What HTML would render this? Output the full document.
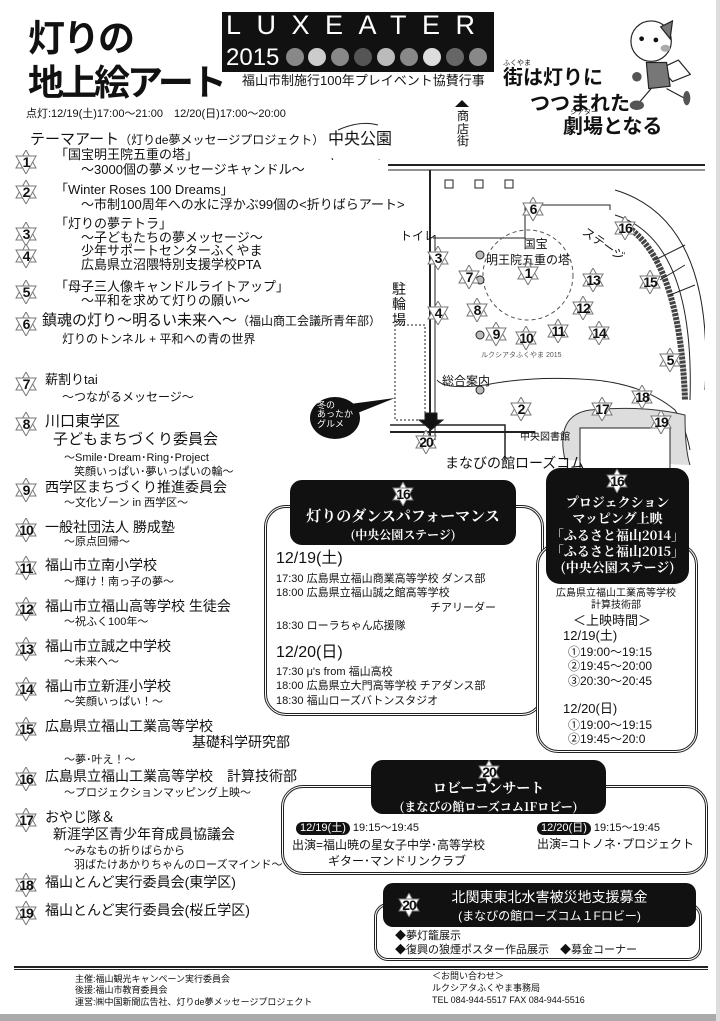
<!DOCTYPE html>
<html><head><meta charset="utf-8">
<style>
*{margin:0;padding:0;box-sizing:border-box}
body{width:720px;height:1021px;background:#fff;position:relative;overflow:hidden;font-family:"Liberation Sans","Noto Sans CJK JP",sans-serif;color:#111}
.a{position:absolute;white-space:nowrap;line-height:1.15}
.st{position:absolute;width:24px;height:24px}
.st svg{position:absolute;left:0;top:0}
.st b{position:absolute;left:0;top:4px;width:24px;text-align:center;font:bold 14px "Liberation Sans",sans-serif;letter-spacing:-1px}
.t13{font-size:13px}.t12{font-size:12px}.t11{font-size:11px}.t10{font-size:10px}
.blk{position:absolute;background:#111;color:#fff;border-radius:12px;text-align:center;font-family:"Noto Serif CJK SC","Liberation Serif",serif;font-weight:bold}
.box{position:absolute;border:3px double #222;border-radius:22px;background:#fff}
.pill{display:inline-block;background:#111;color:#fff;border-radius:9px;padding:0 4px;font-size:11px}
</style></head><body>
<svg width="0" height="0" style="position:absolute"><defs><g id="s"><polygon points="12,0 22,18 2,18" fill="#fff" stroke="#777" stroke-width="1"/><polygon points="12,24 22,6 2,6" fill="#fff" stroke="#777" stroke-width="1"/></g></defs></svg>

<!-- title -->
<div class="a" style="left:28px;top:18px;font-size:37px;font-weight:bold;letter-spacing:-2px">灯りの</div>
<div class="a" style="left:28px;top:62px;font-size:36px;font-weight:bold;letter-spacing:-3px">地上絵アート</div>
<div class="a" style="left:222px;top:12px;width:272px;height:60px;background:#111;overflow:hidden">
<div class="a" style="left:4px;top:-2px;color:#fff;font-size:27px;letter-spacing:15.5px">LUXEATER</div>
<div class="a" style="left:4px;top:32px;color:#fff;font-size:24px">2015</div>
</div>
<svg class="a" style="left:285px;top:46px" width="205" height="22">
<g fill="#888"><circle cx="10" cy="11" r="9"/><circle cx="32" cy="11" r="9" fill="#ccc"/><circle cx="55" cy="11" r="9"/><circle cx="78" cy="11" r="9" fill="#555"/><circle cx="101" cy="11" r="9" fill="#bbb"/><circle cx="124" cy="11" r="9"/><circle cx="147" cy="11" r="9" fill="#ddd"/><circle cx="170" cy="11" r="9" fill="#666"/><circle cx="193" cy="11" r="9"/></g></svg>
<div class="a t13" style="left:242px;top:74px">福山市制施行100年プレイベント協賛行事</div>
<div class="a" style="left:503px;top:60px;font-size:7px">ふくやま</div>
<div class="a" style="left:503px;top:67px;font-size:20px;font-weight:bold">街は灯りに</div>
<div class="a" style="left:530px;top:93px;font-size:20px;font-weight:bold">つつまれた</div>
<div class="a" style="left:570px;top:109px;font-size:7px">シアター</div>
<div class="a" style="left:563px;top:116px;font-size:20px;font-weight:bold">劇場となる</div>
<svg class="a" style="left:625px;top:15px" width="95" height="95" viewBox="0 0 80 80">
<circle cx="22" cy="22" r="17" fill="#fff" stroke="#222"/><polygon points="30,10 40,5 38,20" fill="#777" stroke="#222"/>
<circle cx="14" cy="20" r="2" fill="#111"/><circle cx="26" cy="21" r="2" fill="#111"/><ellipse cx="34" cy="28" rx="4" ry="3" fill="#aaa"/>
<path d="M30 45 L45 38 L55 50 L40 56Z" fill="#fff" stroke="#222"/><path d="M18 40 L35 40 L38 60 L20 62Z" fill="#777" stroke="#222"/>
<path d="M22 62 L10 76 M35 62 L50 70" stroke="#222" fill="none"/><ellipse cx="10" cy="76" rx="6" ry="4" fill="#555"/><ellipse cx="52" cy="70" rx="3" ry="6" fill="#555"/><circle cx="10" cy="52" r="4" fill="#555"/></svg>

<div class="a t11" style="left:26px;top:108px">点灯:12/19(土)17:00～21:00　12/20(日)17:00～20:00</div>

<!-- left list -->
<div class="a" style="left:30px;top:131px;font-size:15px">テーマアート<span class="t12">（灯りde夢メッセージプロジェクト）</span></div>
<div class="st" style="left:14px;top:150px"><svg width="24" height="24"><use href="#s"/></svg><b>1</b></div>
<div class="a t13" style="left:55px;top:148px">「国宝明王院五重の塔」<br>　　～3000個の夢メッセージキャンドル～</div>
<div class="st" style="left:14px;top:180px"><svg width="24" height="24"><use href="#s"/></svg><b>2</b></div>
<div class="a t13" style="left:55px;top:183px">「Winter Roses 100 Dreams」<br>　　～市制100周年への水に浮かぶ99個の&lt;折りばらアート&gt;</div>
<div class="st" style="left:14px;top:222px"><svg width="24" height="24"><use href="#s"/></svg><b>3</b></div>
<div class="st" style="left:14px;top:244px"><svg width="24" height="24"><use href="#s"/></svg><b>4</b></div>
<div class="a t13" style="left:55px;top:217px;line-height:1.05">「灯りの夢テトラ」<br>　　～子どもたちの夢メッセージ～<br>　　少年サポートセンターふくやま<br>　　広島県立沼隈特別支援学校PTA</div>
<div class="st" style="left:14px;top:280px"><svg width="24" height="24"><use href="#s"/></svg><b>5</b></div>
<div class="a t13" style="left:55px;top:280px;line-height:1.05">「母子三人像キャンドルライトアップ」<br>　　～平和を求めて灯りの願い～</div>
<div class="st" style="left:14px;top:312px"><svg width="24" height="24"><use href="#s"/></svg><b>6</b></div>
<div class="a" style="left:42px;top:312px;font-size:15px">鎮魂の灯り～明るい未来へ～<span class="t12">（福山商工会議所青年部）</span></div>
<div class="a t12" style="left:62px;top:333px">灯りのトンネル + 平和への青の世界</div>

<div class="st" style="left:14px;top:372px"><svg width="24" height="24"><use href="#s"/></svg><b>7</b></div>
<div class="a t13" style="left:45px;top:373px">薪割りtai</div><div class="a t12" style="left:62px;top:391px">～つながるメッセージ～</div>
<div class="st" style="left:14px;top:412px"><svg width="24" height="24"><use href="#s"/></svg><b>8</b></div>
<div class="a" style="left:45px;top:413px;font-size:15px">川口東学区</div>
<div class="a" style="left:53px;top:431px;font-size:15px">子どもまちづくり委員会</div>
<div class="a t11" style="left:64px;top:452px">～Smile･Dream･Ring･Project</div>
<div class="a t11" style="left:74px;top:466px">笑顔いっぱい･夢いっぱいの輪～</div>
<div class="st" style="left:14px;top:478px"><svg width="24" height="24"><use href="#s"/></svg><b>9</b></div>
<div class="a" style="left:45px;top:479px;font-size:14px">西学区まちづくり推進委員会</div><div class="a t11" style="left:64px;top:497px">～文化ゾーン in 西学区～</div>
<div class="st" style="left:14px;top:518px"><svg width="24" height="24"><use href="#s"/></svg><b>10</b></div>
<div class="a" style="left:45px;top:519px;font-size:14px">一般社団法人 勝成塾</div><div class="a t11" style="left:64px;top:536px">～原点回帰～</div>
<div class="st" style="left:14px;top:556px"><svg width="24" height="24"><use href="#s"/></svg><b>11</b></div>
<div class="a" style="left:45px;top:557px;font-size:14px">福山市立南小学校</div><div class="a t11" style="left:64px;top:576px">～輝け！南っ子の夢～</div>
<div class="st" style="left:14px;top:597px"><svg width="24" height="24"><use href="#s"/></svg><b>12</b></div>
<div class="a" style="left:45px;top:598px;font-size:14px">福山市立福山高等学校 生徒会</div><div class="a t11" style="left:64px;top:616px">～祝ふく100年～</div>
<div class="st" style="left:14px;top:637px"><svg width="24" height="24"><use href="#s"/></svg><b>13</b></div>
<div class="a" style="left:45px;top:638px;font-size:14px">福山市立誠之中学校</div><div class="a t11" style="left:64px;top:656px">～未来へ～</div>
<div class="st" style="left:14px;top:677px"><svg width="24" height="24"><use href="#s"/></svg><b>14</b></div>
<div class="a" style="left:45px;top:678px;font-size:14px">福山市立新涯小学校</div><div class="a t11" style="left:64px;top:696px">～笑顔いっぱい！～</div>
<div class="st" style="left:14px;top:717px"><svg width="24" height="24"><use href="#s"/></svg><b>15</b></div>
<div class="a" style="left:45px;top:718px;font-size:14px">広島県立福山工業高等学校</div>
<div class="a" style="left:192px;top:734px;font-size:14px">基礎科学研究部</div><div class="a t11" style="left:64px;top:754px">～夢･叶え！～</div>
<div class="st" style="left:14px;top:767px"><svg width="24" height="24"><use href="#s"/></svg><b>16</b></div>
<div class="a" style="left:45px;top:768px;font-size:14px">広島県立福山工業高等学校　計算技術部</div><div class="a t11" style="left:64px;top:787px">～プロジェクションマッピング上映～</div>
<div class="st" style="left:14px;top:808px"><svg width="24" height="24"><use href="#s"/></svg><b>17</b></div>
<div class="a" style="left:45px;top:809px;font-size:14px">おやじ隊＆</div>
<div class="a" style="left:53px;top:826px;font-size:14px">新涯学区青少年育成員協議会</div>
<div class="a t11" style="left:64px;top:845px">～みなもの折りばらから</div><div class="a t11" style="left:74px;top:859px">羽ばたけあかりちゃんのローズマインド～</div>
<div class="st" style="left:14px;top:873px"><svg width="24" height="24"><use href="#s"/></svg><b>18</b></div>
<div class="a" style="left:45px;top:874px;font-size:14px">福山とんど実行委員会(東学区)</div>
<div class="st" style="left:14px;top:901px"><svg width="24" height="24"><use href="#s"/></svg><b>19</b></div>
<div class="a" style="left:45px;top:902px;font-size:14px">福山とんど実行委員会(桜丘学区)</div>

<!-- map -->
<div class="a" style="left:328px;top:131px;font-size:16px">中央公園</div>
<svg class="a" style="left:320px;top:120px" width="120" height="40"><path d="M18 10 Q40 0 58 5" stroke="#222" fill="none"/><path d="M12 38 Q14 50 60 40" stroke="#222" fill="none"/></svg>
<div class="a" style="left:455px;top:100px;font-size:0;border-left:7px solid transparent;border-right:7px solid transparent;border-bottom:7px solid #111"></div>
<div class="a t12" style="left:457px;top:110px;line-height:1.05">商<br>店<br>街</div>
<svg class="a" style="left:385px;top:160px" width="320" height="320" fill="none" stroke="#222">
<line x1="3" y1="5" x2="320" y2="5" stroke-width="2"/><line x1="3" y1="10" x2="320" y2="10"/>
<line x1="45" y1="10" x2="45" y2="280" stroke-width="2"/><line x1="50" y1="75" x2="50" y2="280"/>
<path d="M48 78 H140 V45 H225 V50" /><path d="M52 220 Q60 230 100 225 Q150 215 210 220 Q260 225 290 250 Q300 265 305 290"/>
<path d="M230 55 Q310 80 305 240"/><path d="M230 30 Q330 60 320 230"/>
<path d="M240 65 Q295 100 300 240" stroke="#444" stroke-width="6" stroke-dasharray="3 1"/>
<circle cx="143" cy="115" r="45" stroke-dasharray="4 3" stroke="#555"/>
<path d="M5 265 H120 V300" stroke-width="1.5"/><path d="M5 272 H150" stroke-width="2"/>
<path d="M180 300 Q170 255 205 250 Q260 245 300 255 Q300 290 305 305" fill="#ddd" stroke="#333"/>
<rect x="195" y="268" width="90" height="45" fill="#fff"/>
<rect x="60" y="20" width="8" height="8"/><rect x="90" y="20" width="8" height="8"/><rect x="120" y="20" width="8" height="8"/>
<circle cx="95" cy="95" r="4" fill="#bbb"/><circle cx="95" cy="120" r="4" fill="#bbb"/><circle cx="95" cy="175" r="4" fill="#bbb"/><circle cx="95" cy="230" r="4" fill="#bbb"/>
<rect x="10" y="165" width="30" height="95" stroke-dasharray="2 2"/>
<path d="M270 100 L300 85 M275 120 L300 105 M285 135 L310 125" stroke-width="1"/>
<polygon points="40,253 52,253 52,260 58,260 46,270 34,260 40,260" fill="#111"/>
</svg>
<div class="a t12" style="left:400px;top:230px">トイレ</div>
<div class="a" style="left:392px;top:282px;font-size:14px;line-height:1.1">駐<br>輪<br>場</div>
<div class="a t12" style="left:486px;top:237px;text-align:center;line-height:1.3">　 国宝<br>明王院五重の塔</div>
<div class="a" style="left:579px;top:238px;font-size:12px;transform:rotate(35deg)">ステージ</div>
<div class="a" style="left:481px;top:352px;font-size:7px;color:#555">ルクシアタふくやま 2015</div>
<div class="a t12" style="left:442px;top:375px">総合案内</div>
<div class="a t10" style="left:520px;top:432px">中央図書館</div>
<div class="a" style="left:445px;top:455px;font-size:14px">まなびの館ローズコム</div>
<div class="a" style="left:310px;top:397px;width:50px;height:42px;border-radius:50%;background:#111"></div>
<svg class="a" style="left:350px;top:396px" width="50" height="20"><polygon points="0,8 45,2 5,18" fill="#111"/></svg>
<div class="a" style="left:317px;top:401px;color:#fff;font-size:9px;line-height:1.05">冬の<br>あったか<br>グルメ</div>
<div class="st" style="left:521px;top:197px"><svg width="24" height="24"><use href="#s"/></svg><b>6</b></div>
<div class="st" style="left:613px;top:216px"><svg width="24" height="24"><use href="#s"/></svg><b>16</b></div>
<div class="st" style="left:426px;top:246px"><svg width="24" height="24"><use href="#s"/></svg><b>3</b></div>
<div class="st" style="left:516px;top:261px"><svg width="24" height="24"><use href="#s"/></svg><b>1</b></div>
<div class="st" style="left:457px;top:265px"><svg width="24" height="24"><use href="#s"/></svg><b>7</b></div>
<div class="st" style="left:581px;top:268px"><svg width="24" height="24"><use href="#s"/></svg><b>13</b></div>
<div class="st" style="left:638px;top:270px"><svg width="24" height="24"><use href="#s"/></svg><b>15</b></div>
<div class="st" style="left:465px;top:298px"><svg width="24" height="24"><use href="#s"/></svg><b>8</b></div>
<div class="st" style="left:571px;top:296px"><svg width="24" height="24"><use href="#s"/></svg><b>12</b></div>
<div class="st" style="left:426px;top:301px"><svg width="24" height="24"><use href="#s"/></svg><b>4</b></div>
<div class="st" style="left:484px;top:322px"><svg width="24" height="24"><use href="#s"/></svg><b>9</b></div>
<div class="st" style="left:514px;top:326px"><svg width="24" height="24"><use href="#s"/></svg><b>10</b></div>
<div class="st" style="left:546px;top:319px"><svg width="24" height="24"><use href="#s"/></svg><b>11</b></div>
<div class="st" style="left:587px;top:321px"><svg width="24" height="24"><use href="#s"/></svg><b>14</b></div>
<div class="st" style="left:658px;top:348px"><svg width="24" height="24"><use href="#s"/></svg><b>5</b></div>
<div class="st" style="left:630px;top:385px"><svg width="24" height="24"><use href="#s"/></svg><b>18</b></div>
<div class="st" style="left:509px;top:397px"><svg width="24" height="24"><use href="#s"/></svg><b>2</b></div>
<div class="st" style="left:590px;top:397px"><svg width="24" height="24"><use href="#s"/></svg><b>17</b></div>
<div class="st" style="left:649px;top:410px"><svg width="24" height="24"><use href="#s"/></svg><b>19</b></div>
<div class="st" style="left:414px;top:430px"><svg width="24" height="24"><use href="#s"/></svg><b>20</b></div>

<!-- dance box -->
<div class="box" style="left:264px;top:505px;width:280px;height:211px"></div>
<div class="blk" style="left:290px;top:480px;width:226px;height:65px"><div style="font-size:15px;margin-top:25px">灯りのダンスパフォーマンス</div><div style="font-size:12px">(中央公園ステージ)</div></div>
<div class="st" style="left:391px;top:482px"><svg width="24" height="24"><use href="#s"/></svg><b>16</b></div>
<div class="a" style="left:276px;top:550px;font-size:16px">12/19(土)</div>
<div class="a t11" style="left:276px;top:572px;line-height:1.3">17:30 広島県立福山商業高等学校 ダンス部<br>18:00 広島県立福山誠之館高等学校<br>　　　　　　　　　　　　　　チアリーダー<br><span style="line-height:2">18:30 ローラちゃん応援隊</span></div>
<div class="a" style="left:276px;top:644px;font-size:16px">12/20(日)</div>
<div class="a t11" style="left:276px;top:665px;line-height:1.3">17:30 μ's from 福山高校<br>18:00 広島県立大門高等学校 チアダンス部<br>18:30 福山ローズバトンスタジオ</div>

<!-- projection box -->
<div class="box" style="left:536px;top:543px;width:162px;height:210px"></div>
<div class="blk" style="left:546px;top:468px;width:143px;height:116px;border-radius:14px"><div style="font-size:13px;margin-top:26px;line-height:1.25">プロジェクション<br>マッピング上映<br>「ふるさと福山2014」<br>「ふるさと福山2015」<br>(中央公園ステージ)</div></div>
<div class="st" style="left:605px;top:469px"><svg width="24" height="24"><use href="#s"/></svg><b>16</b></div>
<div class="a t10" style="left:556px;top:588px;text-align:center;line-height:1.2">広島県立福山工業高等学校<br>計算技術部</div>
<div class="a" style="left:573px;top:614px;font-size:13px">＜上映時間＞</div>
<div class="a" style="left:563px;top:629px;font-size:13px">12/19(土)</div>
<div class="a t12" style="left:568px;top:645px;line-height:1.2">①19:00～19:15<br>②19:45～20:00<br>③20:30～20:45</div>
<div class="a" style="left:563px;top:702px;font-size:13px">12/20(日)</div>
<div class="a t12" style="left:568px;top:718px;line-height:1.2">①19:00～19:15<br>②19:45～20:0</div>

<!-- lobby concert -->
<div class="box" style="left:281px;top:785px;width:427px;height:90px"></div>
<div class="blk" style="left:371px;top:760px;width:235px;height:54px"><div style="font-size:14px;margin-top:18px">ロビーコンサート</div><div style="font-size:12px">(まなびの館ローズコム1Fロビー)</div></div>
<div class="st" style="left:477px;top:760px"><svg width="24" height="24"><use href="#s"/></svg><b>20</b></div>
<div class="a t11" style="left:296px;top:822px"><span class="pill">12/19(土)</span> 19:15～19:45</div>
<div class="a t12" style="left:292px;top:838px;line-height:1.3">出演=福山暁の星女子中学･高等学校<br>　　　ギター･マンドリンクラブ</div>
<div class="a t11" style="left:537px;top:822px"><span class="pill">12/20(日)</span> 19:15～19:45</div>
<div class="a t12" style="left:537px;top:838px">出演=コトノネ･プロジェクト</div>

<!-- donation -->
<div class="box" style="left:374px;top:903px;width:328px;height:58px;border-radius:14px"></div>
<div class="blk" style="left:383px;top:883px;width:313px;height:44px;border-radius:10px;font-family:'Liberation Sans','Noto Sans CJK JP',sans-serif;font-weight:normal"><div style="font-size:14px;margin-top:4px;margin-left:20px">北関東東北水害被災地支援募金</div><div style="font-size:12px;margin-left:20px">(まなびの館ローズコム１Fロビー)</div></div>
<div class="st" style="left:397px;top:893px"><svg width="24" height="24"><use href="#s"/></svg><b>20</b></div>
<div class="a t11" style="left:395px;top:929px;line-height:1.3">◆夢灯籠展示<br>◆復興の狼煙ポスター作品展示　◆募金コーナー</div>

<!-- footer -->
<div class="a" style="left:14px;top:966px;width:694px;height:4px;border-top:2px solid #222;border-bottom:1px solid #222"></div>
<div class="a" style="left:75px;top:974px;font-size:9px;line-height:1.25">主催:福山観光キャンペーン実行委員会<br>後援:福山市教育委員会<br>運営:㈱中国新聞広告社、灯りde夢メッセージプロジェクト</div>
<div class="a" style="left:432px;top:970px;font-size:9px;line-height:1.35">＜お問い合わせ＞<br>ルクシアタふくやま事務局<br>TEL 084-944-5517  FAX 084-944-5516</div>
<div class="a" style="left:0;top:1014px;width:720px;height:7px;background:#aaa"></div>
<div class="a" style="left:716px;top:0;width:4px;height:1021px;background:#ddd"></div>
</body></html>
